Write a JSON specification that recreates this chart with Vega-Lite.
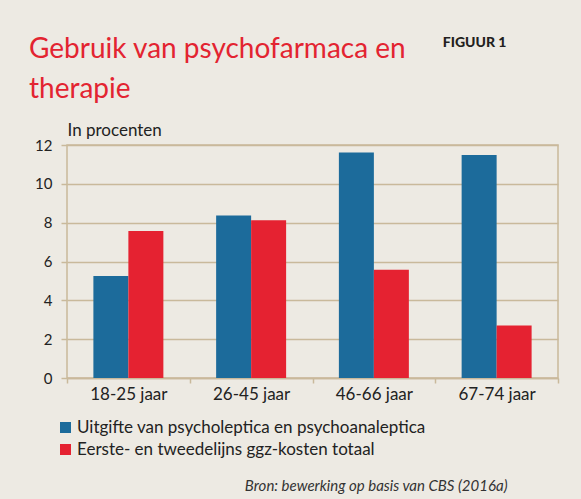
{
  "$schema": "https://vega.github.io/schema/vega-lite/v6.json",
  "width": 491,
  "height": 233,
  "autosize": "none",
  "padding": {"left": 67, "top": 145, "right": 23, "bottom": 121},
  "background": "#edeae3",
  "config": {
    "font": "Lato",
    "view": {"stroke": "#c9b99b", "strokeWidth": 1.5},
    "axis": {"labelColor": "#222222", "titleColor": "#222222", "labelFont": "Lato", "titleFont": "Lato"}
  },
  "title": {
    "text": ["Gebruik van psychofarmaca en", "therapie"],
    "anchor": "start",
    "frame": "group",
    "dx": -38,
    "dy": 89,
    "offset": 20,
    "color": "#e32431",
    "font": "Lato",
    "fontSize": 28,
    "fontWeight": "normal",
    "lineHeight": 40
  },
  "data": {
    "values": [
      {"leeftijd": "18-25 jaar", "reeks": "Uitgifte van psycholeptica en psychoanaleptica", "waarde": 5.25},
      {"leeftijd": "18-25 jaar", "reeks": "Eerste- en tweedelijns ggz-kosten totaal", "waarde": 7.57},
      {"leeftijd": "26-45 jaar", "reeks": "Uitgifte van psycholeptica en psychoanaleptica", "waarde": 8.37},
      {"leeftijd": "26-45 jaar", "reeks": "Eerste- en tweedelijns ggz-kosten totaal", "waarde": 8.13},
      {"leeftijd": "46-66 jaar", "reeks": "Uitgifte van psycholeptica en psychoanaleptica", "waarde": 11.62},
      {"leeftijd": "46-66 jaar", "reeks": "Eerste- en tweedelijns ggz-kosten totaal", "waarde": 5.58},
      {"leeftijd": "67-74 jaar", "reeks": "Uitgifte van psycholeptica en psychoanaleptica", "waarde": 11.48},
      {"leeftijd": "67-74 jaar", "reeks": "Eerste- en tweedelijns ggz-kosten totaal", "waarde": 2.71}
    ]
  },
  "layer": [
    {
      "mark": {"type": "bar"},
      "encoding": {
        "x": {
          "field": "leeftijd", "type": "nominal",
          "scale": {"paddingInner": 0, "paddingOuter": 0},
          "axis": {
            "labelAngle": 0, "labelAlign": "center", "labelBaseline": "top", "tickBand": "extent",
            "tickColor": "#c9b99b", "tickSize": 5, "tickWidth": 1.5,
            "domainColor": "#c9b99b", "domainWidth": 1.5, "labelFontSize": 17, "labelPadding": 3,
            "title": "Bron: bewerking op basis van CBS (2016a)", "titleFontStyle": "italic", "titleFontWeight": "normal",
            "titleFontSize": 15, "titleColor": "#333333", "titleAlign": "right", "titleAnchor": "end",
            "titleBaseline": "alphabetic", "titleX": 440, "titleY": 112
          }
        },
        "xOffset": {
          "field": "reeks", "type": "nominal",
          "sort": ["Uitgifte van psycholeptica en psychoanaleptica", "Eerste- en tweedelijns ggz-kosten totaal"],
          "scale": {"paddingInner": 0, "paddingOuter": 0.754}
        },
        "y": {
          "field": "waarde", "type": "quantitative",
          "scale": {"domain": [0, 12], "nice": false},
          "axis": {
            "values": [0, 2, 4, 6, 8, 10, 12], "grid": true, "gridColor": "#c9b99b", "gridWidth": 1.5,
            "domain": false, "tickColor": "#c9b99b", "tickSize": 6, "tickWidth": 1.5, "labelPadding": 9,
            "labelFontSize": 15,
            "title": "In procenten", "titleAngle": 0, "titleAlign": "left", "titleBaseline": "alphabetic",
            "titleX": 0, "titleY": -10, "titleFontSize": 17, "titleFontWeight": "normal"
          }
        },
        "color": {
          "field": "reeks", "type": "nominal",
          "sort": ["Uitgifte van psycholeptica en psychoanaleptica", "Eerste- en tweedelijns ggz-kosten totaal"],
          "scale": {"range": ["#1c6b9b", "#e52231"]},
          "legend": {
            "orient": "none", "legendX": -10, "legendY": 274, "title": null, "padding": 0,
            "symbolType": "square", "symbolSize": 121, "symbolStrokeWidth": 0, "symbolOpacity": 1,
            "labelFontSize": 17, "labelColor": "#222222", "labelLimit": 600, "labelOffset": 3,
            "rowPadding": 4
          }
        }
      }
    },
    {
      "mark": {"type": "point", "opacity": 0},
      "encoding": {
        "x": {"field": "leeftijd", "type": "nominal", "axis": null},
        "y": {
          "field": "waarde", "type": "quantitative",
          "scale": {"domain": [0, 12], "nice": false},
          "axis": {
            "orient": "right", "domain": false, "ticks": false, "labels": false, "grid": false,
            "title": "FIGUUR 1", "titleAngle": 0, "titleAlign": "right", "titleBaseline": "alphabetic",
            "titleX": -52, "titleY": -99, "titleFontSize": 14, "titleFontWeight": 900, "titleColor": "#231f20"
          }
        }
      }
    }
  ],
  "resolve": {"axis": {"y": "independent", "x": "independent"}}
}
